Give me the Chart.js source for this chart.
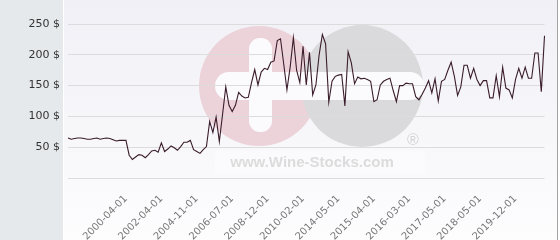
<!DOCTYPE html>
<html>
<head>
<meta charset="utf-8">
<script src="https://cdn.jsdelivr.net/npm/chart.js@4.4.1/dist/chart.umd.min.js"></script>
<style>
  body { margin: 0; background: #fff; }
  .wrap { width: 560px; height: 240px; position: relative; }
</style>
</head>
<body>
<div class="wrap"><canvas id="wineChart"></canvas></div>
<script>
// price history (USD), one value per category
const prices = [
  65, 63, 64, 65, 65, 64, 63, 63, 64, 65,
  63, 64, 65, 64, 62, 60, 61, 61, 61, 37,
  30, 34, 38, 37, 33, 38, 44, 45, 42, 57,
  43, 47, 52, 49, 45, 51, 58, 58, 61, 46,
  43, 40, 46, 51, 92, 74, 99, 59, 103, 148,
  118, 108, 118, 139, 133, 130, 131, 155, 176, 151,
  172, 178, 176, 188, 190, 223, 226, 185, 143, 180,
  228, 175, 155, 214, 151, 204, 135, 151, 200, 233,
  218, 123, 157, 165, 167, 168, 117, 205, 187, 153,
  164, 161, 162, 160, 157, 124, 127, 151, 157, 160,
  162, 142, 124, 150, 150, 154, 153, 153, 132, 127,
  136, 146, 158, 138, 161, 125, 157, 160, 175, 188,
  165, 134, 148, 183, 183, 162, 178, 160, 150, 158,
  158, 130, 130, 166, 132, 180, 146, 143, 130, 160,
  178, 162, 180, 162, 162, 203, 203, 140, 231
];

// dates shown on the x axis, every 11th point starting at point 18
const tickDates = [
  "2000-04-01", "2002-04-01", "2004-11-01", "2006-07-01",
  "2008-12-01", "2010-02-01", "2014-05-01", "2015-04-01",
  "2016-03-01", "2017-05-01", "2018-05-01", "2019-12-01"
];
const firstTick = 18;
const tickStep = 11;

const yTicks = [0, 50, 100, 150, 200, 250];

const labels = prices.map(() => "");
tickDates.forEach((d, i) => {
  labels[firstTick + i * tickStep] = d;
});

// background panels + watermark
const backdrop = {
  id: "backdrop",
  beforeDraw(chart) {
    const ctx = chart.ctx;
    const h = chart.height;
    ctx.save();
    ctx.fillStyle = "#e6e9ec";
    ctx.fillRect(0, 0, 63, h);
    ctx.fillStyle = "#ffffff";
    ctx.fillRect(63, 0, 1, h);
    const grad = ctx.createLinearGradient(0, 0, 0, h);
    grad.addColorStop(0, "#f0f0f6");
    grad.addColorStop(1, "#fdfdfe");
    ctx.fillStyle = grad;
    ctx.fillRect(64, 0, 493, h);
    ctx.fillStyle = "#a3a3a3";
    ctx.fillRect(557, 0, 1, h);

    // watermark
    ctx.fillStyle = "#ecd3da";
    ctx.beginPath();
    ctx.arc(259, 86, 60, 0, Math.PI * 2);
    ctx.fill();
    ctx.fillStyle = "#dadadc";
    ctx.beginPath();
    ctx.arc(362, 86, 61, 0, Math.PI * 2);
    ctx.fill();
    ctx.fillStyle = "#fbfbfd";
    ctx.beginPath();
    ctx.roundRect(215, 72, 209, 28, 14);
    ctx.fill();
    ctx.beginPath();
    ctx.roundRect(249, 38, 23, 94, 11);
    ctx.fill();
    ctx.fillStyle = "rgba(255,255,255,0.3)";
    ctx.fillRect(215, 150, 210, 25);
    ctx.fillStyle = "#dcdcdc";
    ctx.font = "bold 15px 'Liberation Sans', Arial, sans-serif";
    ctx.textAlign = "center";
    ctx.textBaseline = "alphabetic";
    ctx.fillText("www.Wine-Stocks.com", 312, 167);
    ctx.fillStyle = "#d4d4d4";
    ctx.font = "16px 'Liberation Sans', Arial, sans-serif";
    ctx.fillText("\u00ae", 413, 145);
    ctx.restore();
  }
};

const ctx = document.getElementById("wineChart").getContext("2d");
const wineChart = new Chart(ctx, {
  type: "line",
  data: {
    labels: labels,
    datasets: [
      {
        data: prices,
        borderColor: "#3a1c2b",
        borderWidth: 1.1,
        pointRadius: 0,
        tension: 0,
        fill: false,
      },
    ],
  },
  options: {
    responsive: true,
    maintainAspectRatio: false,
    animation: false,
    layout: { padding: { top: 24, right: 5, bottom: 0, left: 0 } },
    plugins: {
      legend: { display: false },
      tooltip: { enabled: false },
    },
    scales: {
      x: {
        grid: { display: false },
        border: { display: false },
        ticks: {
          autoSkip: false,
          minRotation: 45,
          maxRotation: 45,
          padding: 7,
          color: "#777",
          font: { family: "'DejaVu Sans'", size: 10 },
        },
        afterFit(scale) {
          scale.height = 62;
        },
      },
      y: {
        min: yTicks[0],
        max: yTicks[yTicks.length - 1],
        afterBuildTicks(scale) {
          scale.ticks = yTicks.map((v) => ({ value: v }));
        },
        grid: { color: "#dcdcdc", drawTicks: false },
        border: { display: false },
        ticks: {
          padding: 8,
          color: "#333",
          font: { family: "'DejaVu Sans'", size: 11 },
          callback: (v) => (v === 0 ? "" : v + " $"),
        },
        afterFit(scale) {
          scale.width = 68;
        },
      },
    },
  },
  plugins: [backdrop],
});
</script>
</body>
</html>
